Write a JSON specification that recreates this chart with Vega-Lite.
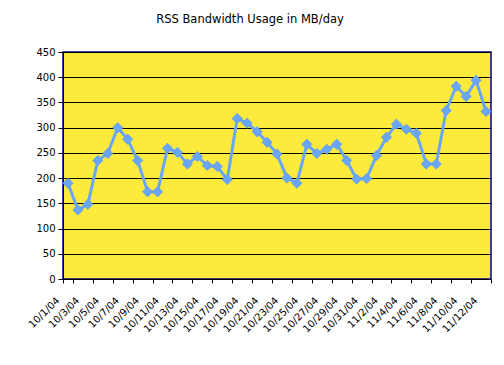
{
  "$schema": "https://vega.github.io/schema/vega-lite/v6.json",
  "width": 428,
  "height": 227,
  "autosize": {"type": "none"},
  "padding": {"left": 63, "top": 52, "right": 13, "bottom": 86},
  "background": "white",
  "title": {"text": "RSS Bandwidth Usage in MB/day", "font": "DejaVu Sans", "fontSize": 11.5, "fontWeight": "normal", "color": "black", "anchor": "middle", "dx": -27, "offset": 22},
  "config": {
    "view": {"fill": "#FCEB3C", "stroke": "#000099", "strokeWidth": 1.5},
    "axis": {"labelFont": "DejaVu Sans", "labelFontSize": 10, "labelColor": "black", "domainColor": "black", "tickColor": "black", "domainWidth": 1, "tickWidth": 1}
  },
  "data": {
    "values": [
      {"date": "10/1/04", "mb": 190}, {"date": "10/2/04", "mb": 137}, {"date": "10/3/04", "mb": 148},
      {"date": "10/4/04", "mb": 235}, {"date": "10/5/04", "mb": 249}, {"date": "10/6/04", "mb": 300},
      {"date": "10/7/04", "mb": 277}, {"date": "10/8/04", "mb": 235}, {"date": "10/9/04", "mb": 173},
      {"date": "10/10/04", "mb": 173}, {"date": "10/11/04", "mb": 259}, {"date": "10/12/04", "mb": 251},
      {"date": "10/13/04", "mb": 228}, {"date": "10/14/04", "mb": 243}, {"date": "10/15/04", "mb": 225},
      {"date": "10/16/04", "mb": 223}, {"date": "10/17/04", "mb": 197}, {"date": "10/18/04", "mb": 318},
      {"date": "10/19/04", "mb": 309}, {"date": "10/20/04", "mb": 292}, {"date": "10/21/04", "mb": 271},
      {"date": "10/22/04", "mb": 248}, {"date": "10/23/04", "mb": 200}, {"date": "10/24/04", "mb": 190},
      {"date": "10/25/04", "mb": 267}, {"date": "10/26/04", "mb": 249}, {"date": "10/27/04", "mb": 257},
      {"date": "10/28/04", "mb": 267}, {"date": "10/29/04", "mb": 235}, {"date": "10/30/04", "mb": 198},
      {"date": "10/31/04", "mb": 199}, {"date": "11/1/04", "mb": 245}, {"date": "11/2/04", "mb": 281},
      {"date": "11/3/04", "mb": 307}, {"date": "11/4/04", "mb": 297}, {"date": "11/5/04", "mb": 289},
      {"date": "11/6/04", "mb": 228}, {"date": "11/7/04", "mb": 228}, {"date": "11/8/04", "mb": 334},
      {"date": "11/9/04", "mb": 382}, {"date": "11/10/04", "mb": 362}, {"date": "11/11/04", "mb": 394},
      {"date": "11/12/04", "mb": 332}
    ]
  },
  "encoding": {
    "x": {
      "field": "date", "type": "ordinal", "sort": null,
      "scale": {"type": "band", "paddingInner": 0, "paddingOuter": 0},
      "axis": {
        "title": null,
        "values": ["10/1/04","10/3/04","10/5/04","10/7/04","10/9/04","10/11/04","10/13/04","10/15/04","10/17/04","10/19/04","10/21/04","10/23/04","10/25/04","10/27/04","10/29/04","10/31/04","11/2/04","11/4/04","11/6/04","11/8/04","11/10/04","11/12/04"],
        "tickBand": "extent",
        "tickSize": 4,
        "labelAngle": -45,
        "labelAlign": "right",
        "labelBaseline": "top",
        "labelPadding": 12,
        "labelOffset": -14,
        "grid": false
      }
    },
    "y": {
      "field": "mb", "type": "quantitative",
      "scale": {"domain": [0, 450], "nice": false},
      "axis": {"title": null, "values": [0,50,100,150,200,250,300,350,400,450], "tickSize": 5, "labelPadding": 3, "grid": true, "gridColor": "black", "gridWidth": 1, "gridOpacity": 1}
    }
  },
  "layer": [
    {"mark": {"type": "line", "color": "#6aa6f8", "strokeWidth": 3}},
    {"mark": {"type": "point", "shape": "diamond", "filled": true, "size": 110, "color": "#6aa6f8", "opacity": 1, "stroke": "#5a95ea", "strokeWidth": 0.5}}
  ]
}
